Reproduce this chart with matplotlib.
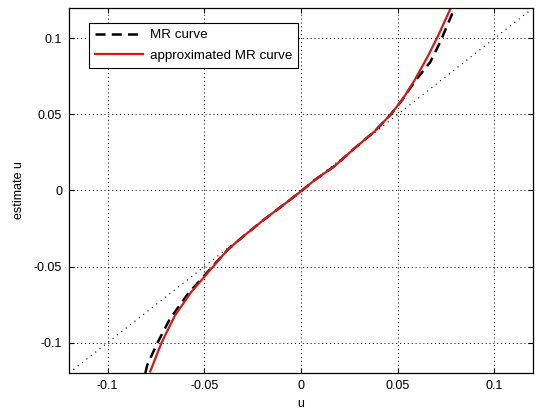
import matplotlib
matplotlib.use("Agg")
import matplotlib.pyplot as plt

# Data
mr_u = [-0.0805, -0.0796, -0.0745, -0.0678, -0.0585, -0.0470, -0.0380, -0.0295, -0.0193, -0.0090, 0.0, 0.0072, 0.0175, 0.0278, 0.0380, 0.0464, 0.0524, 0.0587, 0.0669, 0.0720, 0.0788, 0.0800]
mr_v = [-0.1200, -0.1150, -0.1008, -0.0844, -0.0680, -0.0517, -0.0390, -0.0298, -0.0193, -0.0094, -0.0005, 0.0070, 0.0162, 0.0279, 0.0388, 0.0500, 0.0597, 0.0715, 0.0845, 0.0976, 0.1180, 0.1200]

approx_u = [-0.0780, -0.0720, -0.0652, -0.0568, -0.0466, -0.0380, -0.0295, -0.0193, -0.0090, 0.0, 0.0072, 0.0175, 0.0278, 0.0380, 0.0464, 0.0524, 0.0587, 0.0654, 0.0706, 0.0773]
approx_v = [-0.1190, -0.0997, -0.0822, -0.0668, -0.0517, -0.0390, -0.0298, -0.0193, -0.0094, -0.0005, 0.0070, 0.0162, 0.0279, 0.0388, 0.0500, 0.0597, 0.0724, 0.0878, 0.1009, 0.1195]

diag = [-0.12, 0.12]
xticks = [-0.1, -0.05, 0, 0.05, 0.1]
yticks = [-0.1, -0.05, 0, 0.05, 0.1]
tick_labels = ["-0.1", "-0.05", "0", "0.05", "0.1"]

plt.rcParams['font.family'] = ['Liberation Sans', 'DejaVu Sans']

fig = plt.figure(figsize=(5.37, 4.11), dpi=100)
ax = fig.add_axes([69/537, 1 - 373/411, (533-69)/537, (373-8)/411])

ax.plot(diag, diag, color='black', linestyle=(0, (1, 4)), linewidth=0.8)
ax.plot(mr_u, mr_v, color='black', linestyle=(0, (4, 2.5)), linewidth=1.8, label='MR curve')
ax.plot(approx_u, approx_v, color='#d81818', linewidth=1.6, label='approximated MR curve')

ax.set_xlim(-0.12, 0.12)
ax.set_ylim(-0.12, 0.12)
ax.set_xticks(xticks)
ax.set_xticklabels(tick_labels)
ax.set_yticks(yticks)
ax.set_yticklabels(tick_labels)
ax.grid(True, color='black', linestyle=(0, (1, 3)), linewidth=0.7)
ax.tick_params(direction='in', length=3.6, width=0.8, top=True, right=True,
               labelsize=9, colors='black', pad=5)
for s in ax.spines.values():
    s.set_linewidth(0.9)

ax.set_xlabel('u', fontsize=9, labelpad=4)
ax.set_ylabel('estimate u', fontsize=9, labelpad=6)

leg = ax.legend(loc='upper left', bbox_to_anchor=((89-69)/464, 1 - (23-8)/365),
                fontsize=9.6, frameon=True, fancybox=False, edgecolor='black',
                framealpha=1, borderpad=0.45, handlelength=3.6, handletextpad=0.5,
                labelspacing=0.6, borderaxespad=0)
leg.get_frame().set_linewidth(0.8)

fig.savefig('out.png', dpi=100)
